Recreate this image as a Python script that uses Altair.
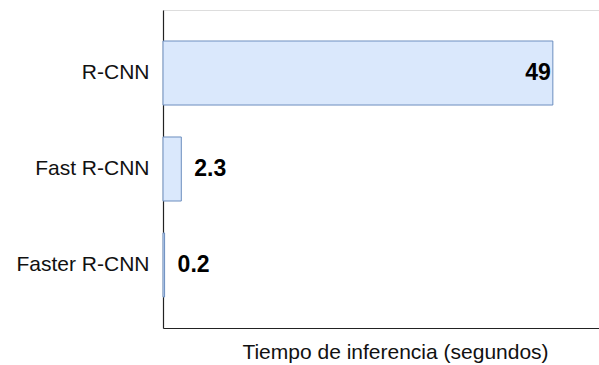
import altair as alt
import pandas as pd

# Inference time per detector family
models = ["R-CNN", "Fast R-CNN", "Faster R-CNN"]
seconds = [49, 2.3, 0.2]
labels = ["49", "2.3", "0.2"]

df = pd.DataFrame({"model": models, "seconds": seconds, "label": labels})

FONT = "Liberation Sans"

x_enc = alt.X(
    "seconds:Q",
    scale=alt.Scale(domain=[0, 54.8], nice=False, zero=True),
    axis=alt.Axis(
        title="Tiempo de inferencia (segundos)",
        labels=False, ticks=False, grid=False, domain=True,
        domainColor="#222222", domainWidth=1.2,
        titleFont=FONT, titleFontSize=21, titleFontWeight="normal",
        titleColor="#111111", titlePadding=13, titleX=232,
    ),
)
y_enc = alt.Y(
    "model:N",
    sort=models,
    scale=alt.Scale(paddingInner=0.333, paddingOuter=0.323),
    axis=alt.Axis(
        title=None, ticks=False, grid=False, domain=True,
        domainColor="#222222", domainWidth=1.2,
        labelFont=FONT, labelFontSize=21, labelColor="#111111",
        labelPadding=14,
    ),
)

bars = alt.Chart(df).mark_bar(
    fill="#dae8fc", stroke="#6c8ebf", strokeWidth=1
).encode(x=x_enc, y=y_enc)

# Long bar gets its value inside, short bars get it just past the end
inside = alt.Chart(df).transform_filter("datum.seconds > 10").mark_text(
    align="right", baseline="middle", dx=-2, font=FONT, fontSize=23,
    fontWeight="bold", color="#000000"
).encode(x="seconds:Q", y=alt.Y("model:N", sort=models), text="label:N")

outside = alt.Chart(df).transform_filter("datum.seconds <= 10").mark_text(
    align="left", baseline="middle", dx=13, font=FONT, fontSize=23,
    fontWeight="bold", color="#000000"
).encode(x="seconds:Q", y=alt.Y("model:N", sort=models), text="label:N")

chart = alt.layer(bars, inside, outside).properties(
    width=436, height=318,
    autosize=alt.AutoSizeParams(type="none"),
    padding={"left": 163, "top": 10, "right": 0, "bottom": 37},
).configure_view(stroke=None).configure(background="#ffffff")

chart.save("out.html", embed_options={"renderer": "svg", "actions": False})
